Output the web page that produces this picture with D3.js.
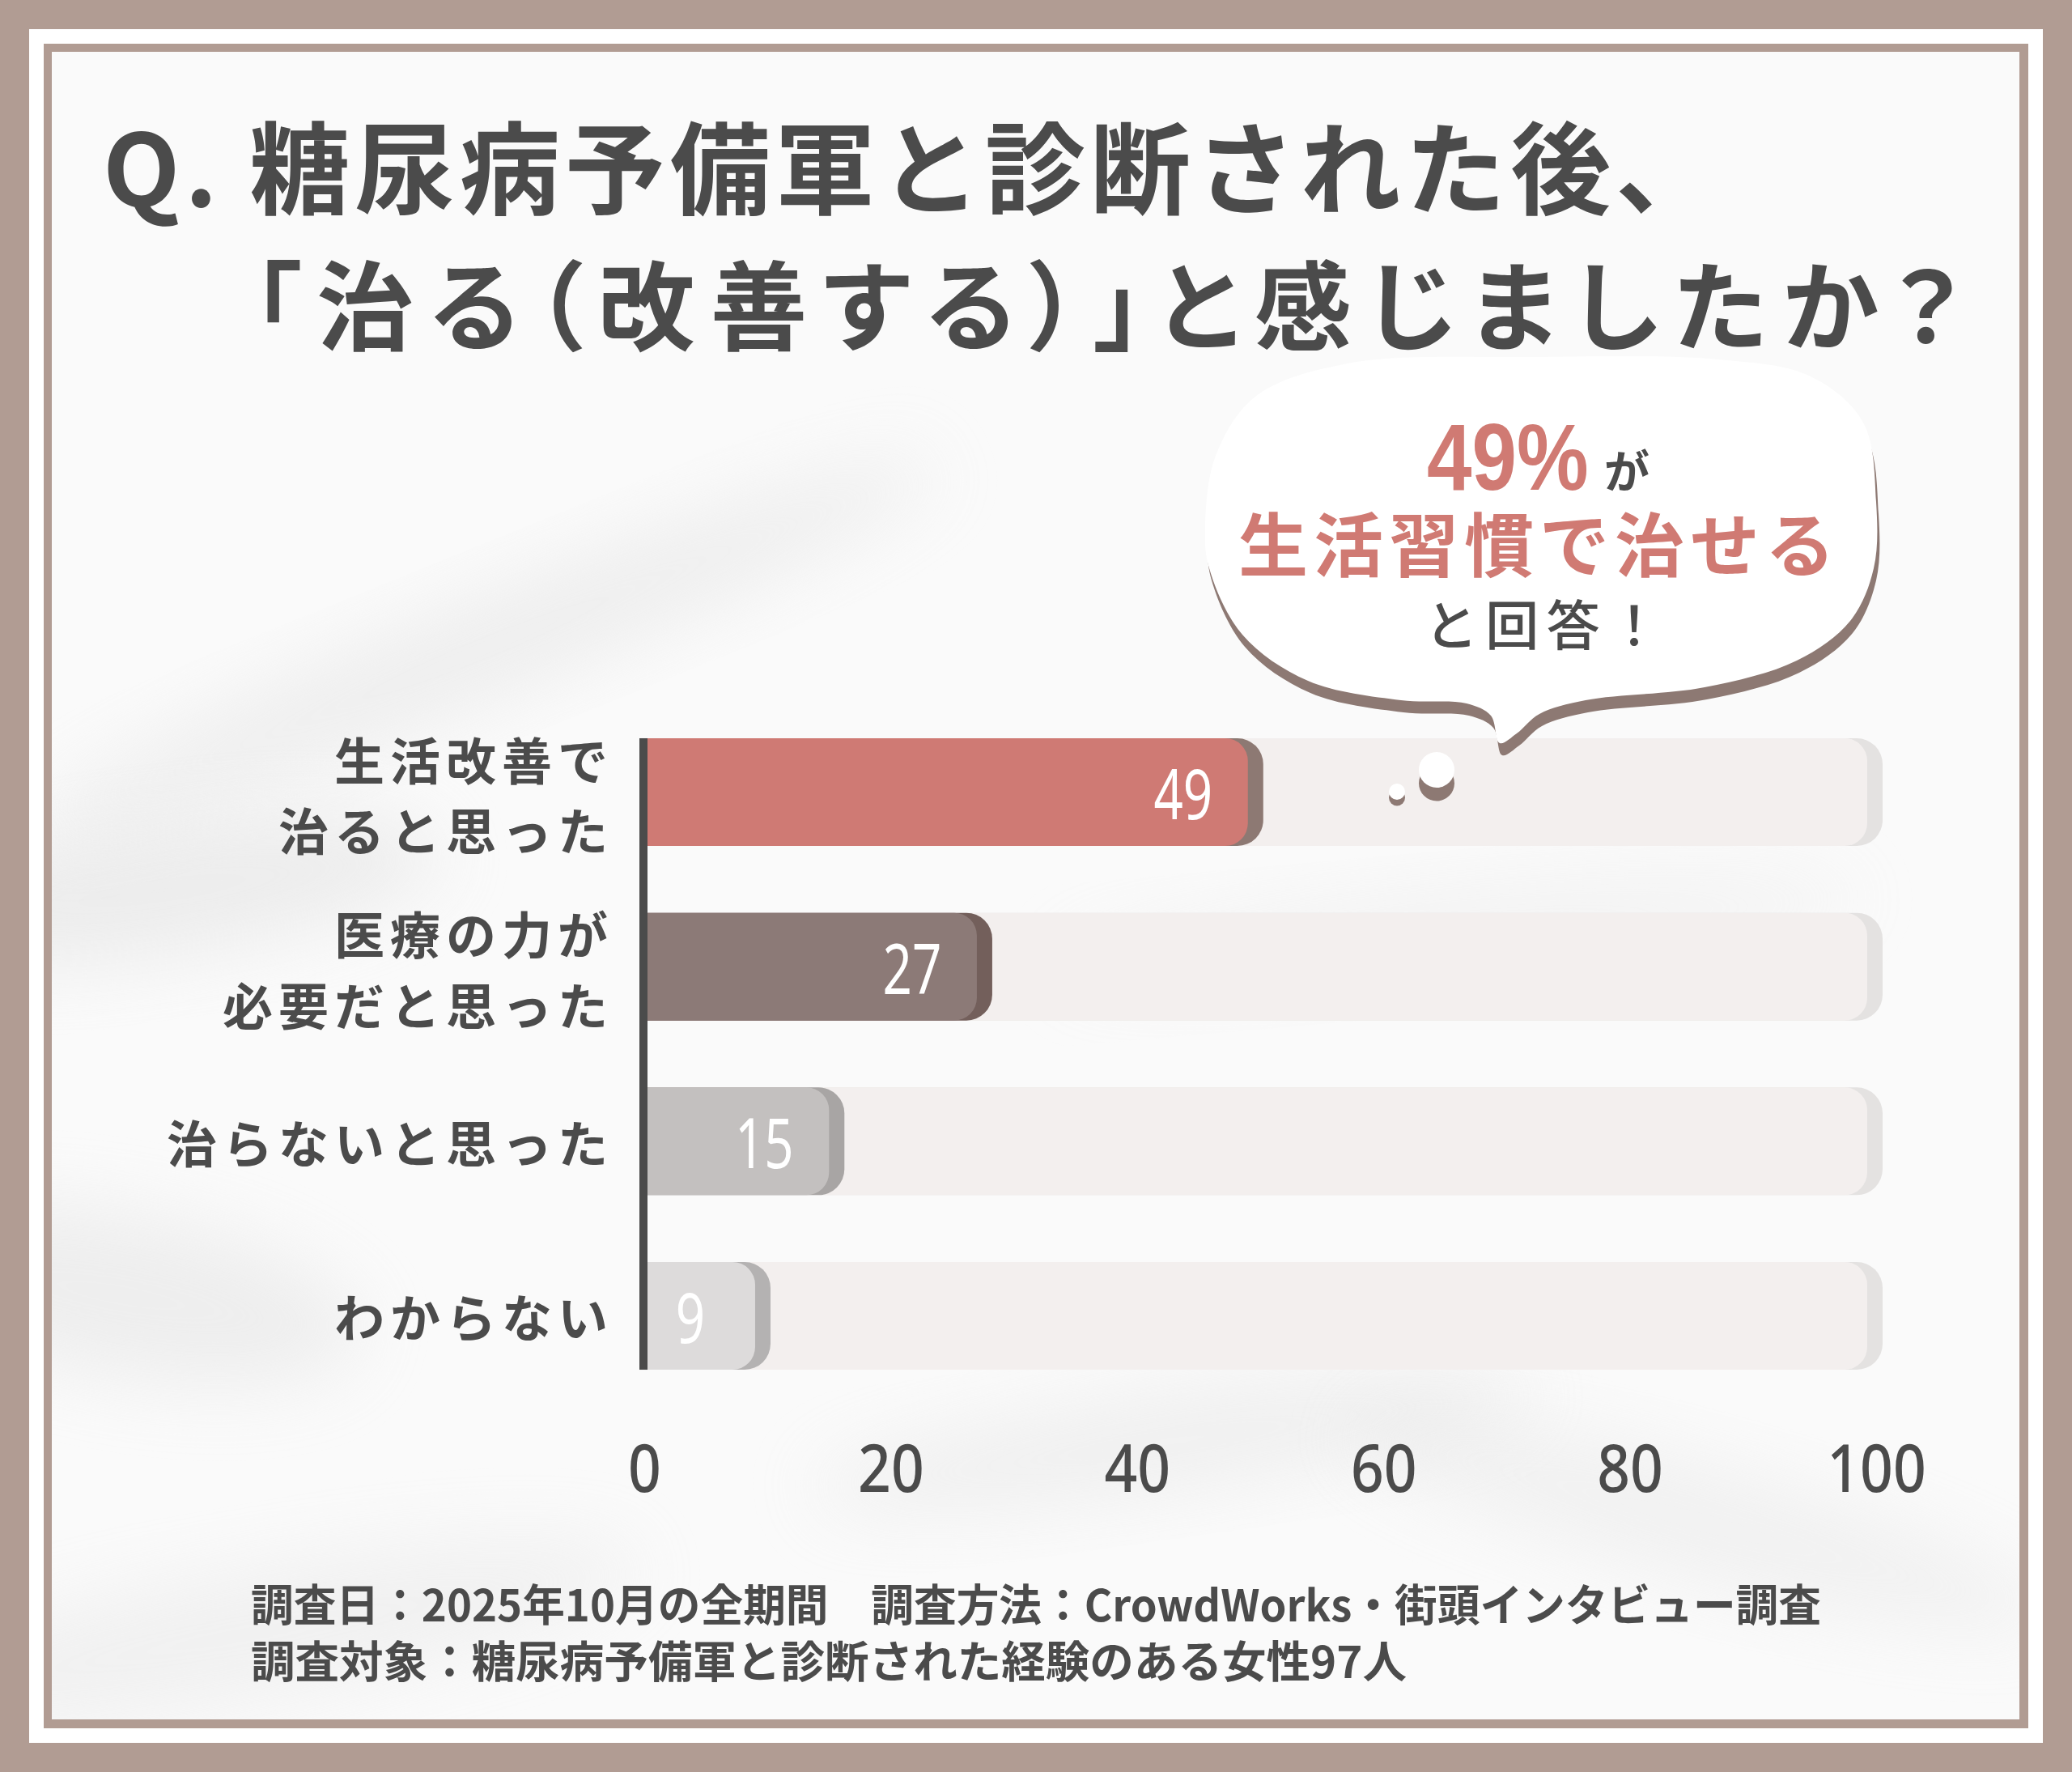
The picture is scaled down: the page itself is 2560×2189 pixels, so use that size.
<!DOCTYPE html>
<html>
<head>
<meta charset="utf-8">
<script src="https://cdn.jsdelivr.net/npm/d3@7"></script>
<style>
  html, body { margin: 0; padding: 0; background: #b19c93; }
  svg { display: block; }
</style>
</head>
<body>
<svg id="chart"></svg>
<script>
// ---- data ----
var titleLines = ["Q. 糖尿病予備軍と診断された後、", "「治る（改善する）」と感じましたか？"];
var categories = ["生活改善で治ると思った", "医療の力が必要だと思った", "治らないと思った", "わからない"];
var labelLines = [["生活改善で", "治ると思った"], ["医療の力が", "必要だと思った"], ["治らないと思った"], ["わからない"]];
var values = [49, 27, 15, 9];
var tickValues = [0, 20, 40, 60, 80, 100];
var maxValue = 100;
var calloutPct = "49%";
var calloutLines = ["が", "生活習慣で治せる", "と回答！"];
var notes = ["調査日：2025年10月の全期間　調査方法：CrowdWorks・街頭インタビュー調査",
             "調査対象：糖尿病予備軍と診断された経験のある女性97人"];

var barColors = ["#cf7a74", "#8c7a77", "#c3c0bf", "#dddbdb"];
var shadowColors = ["#8d7973", "#735f5b", "#a8a5a4", "#b4b2b2"];

var width = 2560, height = 2189;
var ink = "#4b4b4b", pink = "#d07a73";
var jp = "'Noto Sans CJK JP', 'Noto Sans', sans-serif";

var svg = d3.select("#chart").attr("width", width).attr("height", height);

// ---- frame ----
svg.append("rect").attr("width", width).attr("height", height).attr("fill", "#b19c93");
svg.append("rect").attr("x", 36).attr("y", 36).attr("width", 2488).attr("height", 2117).attr("fill", "#ffffff");
svg.append("rect").attr("x", 54).attr("y", 54).attr("width", 2452).attr("height", 2081).attr("fill", "#b19c93");
svg.append("rect").attr("x", 64).attr("y", 64).attr("width", 2431).attr("height", 2060).attr("fill", "#fafafa");

// faint watercolor smudges
var defs = svg.append("defs");
defs.append("filter").attr("id", "blur").attr("x", "-50%").attr("y", "-50%").attr("width", "200%").attr("height", "200%")
  .append("feGaussianBlur").attr("stdDeviation", 45);
defs.append("clipPath").attr("id", "inner").append("rect")
  .attr("x", 64).attr("y", 64).attr("width", 2431).attr("height", 2060);
var smudges = [
  {cx: 600, cy: 800, rx: 600, ry: 60, rot: -22, o: 0.4},
  {cx: 200, cy: 1100, rx: 350, ry: 80, rot: -8, o: 0.45},
  {cx: 150, cy: 1600, rx: 300, ry: 100, rot: 10, o: 0.4},
  {cx: 1450, cy: 1780, rx: 450, ry: 60, rot: -8, o: 0.35},
  {cx: 2100, cy: 1880, rx: 450, ry: 70, rot: 15, o: 0.3},
  {cx: 1800, cy: 1150, rx: 500, ry: 50, rot: -5, o: 0.25},
  {cx: 300, cy: 2020, rx: 500, ry: 80, rot: -10, o: 0.3}
];
svg.append("g").attr("clip-path", "url(#inner)").selectAll("ellipse").data(smudges).enter().append("ellipse")
  .attr("cx", function(d) { return d.cx; }).attr("cy", function(d) { return d.cy; })
  .attr("rx", function(d) { return d.rx; }).attr("ry", function(d) { return d.ry; })
  .attr("transform", function(d) { return "rotate(" + d.rot + "," + d.cx + "," + d.cy + ")"; })
  .attr("fill", "#dcdcdc").attr("opacity", function(d) { return d.o; })
  .attr("filter", "url(#blur)");

// ---- title ----
svg.append("text").attr("x", 127).attr("y", 201)
  .attr("textLength", 1993).attr("lengthAdjust", "spacing")
  .attr("dominant-baseline", "central")
  .style("font-family", jp).style("font-weight", 700).style("font-size", "124px")
  .attr("fill", ink).text(titleLines[0]);
svg.append("text").attr("x", 312).attr("y", 372)
  .attr("textLength", 2111).attr("lengthAdjust", "spacing")
  .attr("dominant-baseline", "central")
  .style("font-feature-settings", "'palt' 1")
  .style("font-family", jp).style("font-weight", 700).style("font-size", "120px")
  .attr("fill", ink).text(titleLines[1]);

// ---- scales ----
var x = d3.scaleLinear().domain([0, maxValue]).range([796, 2318]);
var y = d3.scaleBand().domain(categories).range([871, 1733]).paddingInner(0.383).paddingOuter(0.19);
var bh = y.bandwidth();
var trackEnd = x(maxValue) - 11;

function rightRounded(x0, y0, w, h, r) {
  r = Math.min(r, w);
  return "M" + x0 + "," + y0 + "H" + (x0 + w - r) +
    "A" + r + "," + r + " 0 0 1 " + (x0 + w) + "," + (y0 + r) +
    "V" + (y0 + h - r) +
    "A" + r + "," + r + " 0 0 1 " + (x0 + w - r) + "," + (y0 + h) +
    "H" + x0 + "Z";
}

var rows = svg.append("g").selectAll("g").data(categories).enter().append("g");

// tracks
rows.append("path").attr("d", function(d) { return rightRounded(x(0), y(d), trackEnd - x(0) + 19, bh, 32); })
  .attr("fill", "#e4e2e1");
rows.append("path").attr("d", function(d) { return rightRounded(x(0), y(d), trackEnd - x(0), bh, 28); })
  .attr("fill", "#f3efee");
// bars
rows.append("path").attr("d", function(d, i) { return rightRounded(x(0), y(d), x(values[i]) - x(0) + 19, bh, 32); })
  .attr("fill", function(d, i) { return shadowColors[i]; });
rows.append("path").attr("d", function(d, i) { return rightRounded(x(0), y(d), x(values[i]) - x(0), bh, 28); })
  .attr("fill", function(d, i) { return barColors[i]; });
// value labels
rows.append("text")
  .attr("transform", function(d, i) { return "translate(" + (x(values[i]) - 80) + "," + (y(d) + bh / 2) + ") scale(0.74,1)"; })
  .attr("text-anchor", "middle").attr("dominant-baseline", "central")
  .style("font-family", "'Noto Sans', sans-serif").style("font-size", "86px").style("font-weight", 400)
  .attr("fill", "#ffffff")
  .text(function(d, i) { return values[i]; });

// axis line
svg.append("rect").attr("x", x(0) - 6).attr("width", 10)
  .attr("y", y(categories[0])).attr("height", y(categories[categories.length - 1]) + bh - y(categories[0]))
  .attr("fill", ink);

// category labels
var lineOffsets = [[-42, 45], [-42, 46], [0], [0]];
rows.each(function(d, i) {
  var g = d3.select(this);
  labelLines[i].forEach(function(line, j) {
    g.append("text").attr("x", 758).attr("y", y(d) + bh / 2 + lineOffsets[i][j])
      .attr("text-anchor", "end").attr("dominant-baseline", "central")
      .style("font-family", jp).style("font-size", "62px").style("font-weight", 700)
      .style("letter-spacing", "7px")
      .attr("fill", ink).text(line);
  });
});

// x axis
var xAxis = d3.axisBottom(x).tickValues(tickValues).tickSize(0).tickPadding(0);
var ax = svg.append("g").attr("transform", "translate(0,1812)").call(xAxis);
ax.select(".domain").remove();
ax.selectAll("text").attr("y", 0).attr("dy", null)
  .attr("dominant-baseline", "central")
  .attr("transform", "scale(0.87,1)")
  .style("font-family", "'Noto Sans', sans-serif").style("font-size", "82px").style("font-weight", 500)
  .attr("fill", ink);

// ---- callout bubble ----
var bubblePts = [[1489,653],[1494,702],[1535,784],[1616,841],[1731,865],[1812,869],[1842,884],
  [1853,918],[1874,906],[1902,882],[1959,865],[2106,849],[2220,816],[2286,767],[2315,702],
  [2318,620],[2302,522],[2237,465],[2122,444],[1894,441],[1665,449],[1551,490],[1502,563]];
var blob = d3.line().curve(d3.curveCatmullRomClosed.alpha(0.5));
svg.append("path").attr("d", blob(bubblePts)).attr("transform", "translate(3,15)").attr("fill", "#8d7973");
svg.append("path").attr("d", blob(bubblePts)).attr("fill", "#ffffff");

var dots = [{cx: 1775, cy: 951, r: 22}, {cx: 1726, cy: 978, r: 10}];
svg.selectAll("circle.sh").data(dots).enter().append("circle")
  .attr("cx", function(d) { return d.cx; }).attr("cy", function(d) { return d.cy + d.r * 0.75; })
  .attr("r", function(d) { return d.r; }).attr("fill", "#8d7973");
svg.selectAll("circle.dot").data(dots).enter().append("circle")
  .attr("cx", function(d) { return d.cx; }).attr("cy", function(d) { return d.cy; })
  .attr("r", function(d) { return d.r; }).attr("fill", "#ffffff");

// callout text
svg.append("text").attr("transform", "translate(1763,605) scale(0.86,1)")
  .style("font-family", "'Liberation Sans', 'Noto Sans', sans-serif").style("font-size", "116px").style("font-weight", 700)
  .attr("fill", pink).text(calloutPct);
var callout = svg.append("text").style("font-family", jp).style("font-weight", 700);
callout.append("tspan").attr("x", 1982).attr("y", 603)
  .style("font-size", "56px")
  .attr("fill", ink).text(calloutLines[0]);
callout.append("tspan").attr("x", 1530).attr("y", 706)
  .attr("textLength", 737).attr("lengthAdjust", "spacing")
  .style("font-size", "86px")
  .attr("fill", pink).text(calloutLines[1]);
callout.append("tspan").attr("x", 1760).attr("y", 797)
  .attr("textLength", 292).attr("lengthAdjust", "spacing")
  .style("font-size", "66px").style("font-weight", 500)
  .attr("fill", ink).text(calloutLines[2]);

// ---- notes ----
var noteLens = [1940, 1428];
svg.selectAll("text.note").data(notes).enter().append("text")
  .attr("class", "note")
  .attr("x", 310).attr("y", function(d, i) { return 1979 + i * 70; })
  .attr("textLength", function(d, i) { return noteLens[i]; }).attr("lengthAdjust", "spacingAndGlyphs")
  .attr("dominant-baseline", "central")
  .style("font-family", jp).style("font-size", "54px").style("font-weight", 700)
  .attr("fill", ink).text(function(d) { return d; });
</script>
</body>
</html>
